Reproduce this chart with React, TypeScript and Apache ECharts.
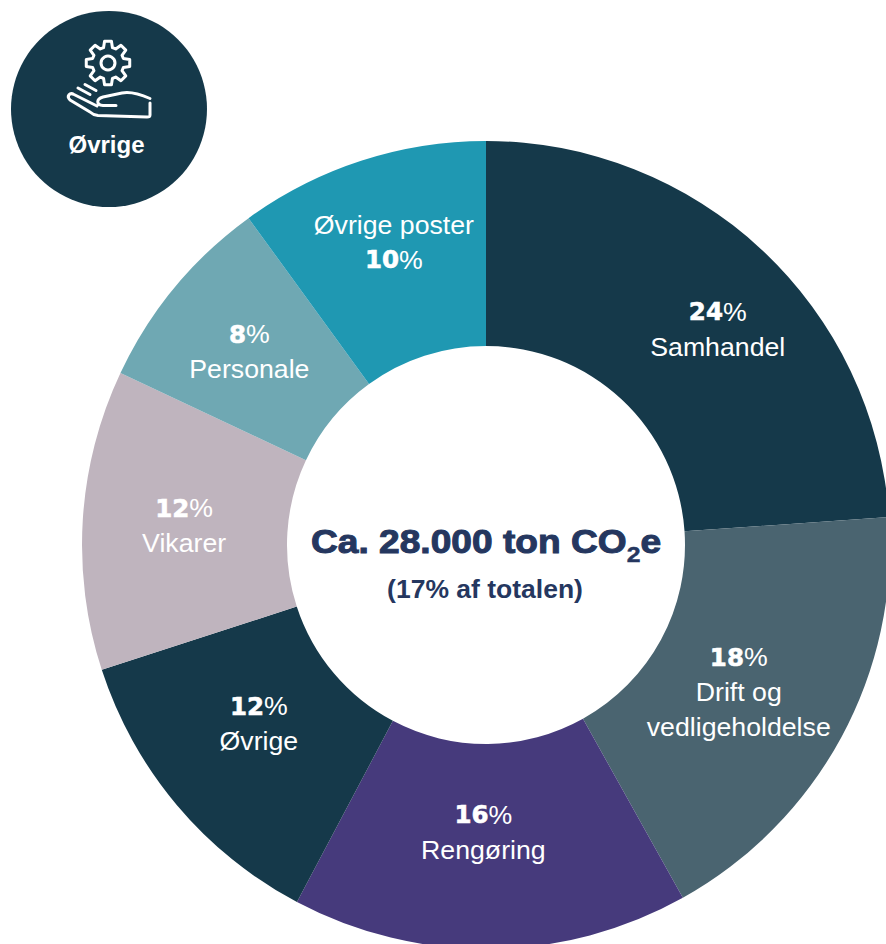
import React, { useEffect, useRef } from "react";
import * as echarts from "echarts";

const percentValues = [23.9, 18, 15.85, 12.25, 12, 8, 10];
const percentLabels = ["24", "18", "16", "12", "12", "8", "10"];
const categoryLines = [
  ["Samhandel"],
  ["Drift og", "vedligeholdelse"],
  ["Rengøring"],
  ["Øvrige"],
  ["Vikarer"],
  ["Personale"],
  ["Øvrige poster"],
];
const percentFirst = [true, true, true, true, true, true, false];
const sliceColors = ["#15394A", "#4A6470", "#463A7C", "#15394A", "#BFB4BE", "#6FA8B3", "#1F98B2"];
const labelNudges = [
  [24, 7], [-15, 2], [-6, -17], [6, -17], [2, 0], [-2, 1], [2, -13],
];
const titleMain = "Ca. 28.000 ton CO";
const titleSub = "(17% af totalen)";
const badgeLabel = "Øvrige";

function gearPath(cx: number, cy: number, ro: number, ri: number, teeth: number) {
  const pts: string[] = [];
  const step = (Math.PI * 2) / teeth;
  for (let i = 0; i < teeth; i++) {
    const a = i * step - Math.PI / 2;
    const w = step * 0.2;
    const seq: [number, number][] = [
      [ri, a - step * 0.36], [ro, a - w], [ro, a + w], [ri, a + step * 0.36],
    ];
    for (const [r, t] of seq) {
      pts.push(`${(cx + r * Math.cos(t)).toFixed(2)} ${(cy + r * Math.sin(t)).toFixed(2)}`);
    }
  }
  return "M" + pts.join(" L") + " Z";
}

const handPath =
  "M150 98.5 C142 95 132 91 122 93 L103 97 C96 99 96 105 103 105.5 L116 105.5 " +
  "M150 103 L150 115 C150 117 149 117 147 117 L98 115.5 C94 115 92 114 90 112 L70 100 C66 96 70 92 74 94.5 L97 106 " +
  "M78 88 L90 94.5 M85 84.5 L96 90.5";

echarts.graphic.registerShape("gearIcon", echarts.graphic.extendPath(gearPath(108, 63, 22, 16, 8), {}) as any);
echarts.graphic.registerShape("handIcon", echarts.graphic.extendPath(handPath, {}) as any);

export default function App() {
  const ref = useRef<HTMLDivElement>(null);
  useEffect(() => {
    document.body.style.margin = "0";
    const chart = echarts.init(ref.current!, undefined, { renderer: "svg" });
    const white = "#FFFFFF";
    const navy = "#25375F";
    chart.setOption({
      animation: false,
      backgroundColor: "#FFFFFF",
      series: [
        {
          type: "pie",
          center: [486, 545],
          radius: [199, 404],
          startAngle: 90,
          clockwise: true,
          silent: true,
          itemStyle: { borderWidth: 0 },
          labelLine: { show: false },
          label: {
            show: true,
            position: "inside",
            color: white,
            fontFamily: "Liberation Sans",
            fontSize: 26.7,
            lineHeight: 35,
            align: "center",
            formatter: (p: any) => {
              const pct = `{num|${percentLabels[p.dataIndex]}}{pct|%}`;
              const names = categoryLines[p.dataIndex].map((n) => `{pct|${n}}`);
              return (percentFirst[p.dataIndex] ? [pct, ...names] : [...names, pct]).join("\n");
            },
            rich: {
              num: {
                color: white,
                fontFamily: "DejaVu Sans",
                fontWeight: "bold",
                fontSize: 24.5,
                lineHeight: 35,
                textBorderColor: white,
                textBorderWidth: 0.6,
              },
              pct: { color: white, fontFamily: "Liberation Sans", fontSize: 26.7, lineHeight: 35 },
            },
          },
          labelLayout: (p: any) => ({ dx: labelNudges[p.dataIndex][0], dy: labelNudges[p.dataIndex][1], hideOverlap: false }),
          data: percentValues.map((value, i) => ({
            value,
            name: categoryLines[i].join(" "),
            itemStyle: { color: sliceColors[i] },
          })),
        },
      ],
      graphic: [
        { type: "circle", shape: { cx: 109, cy: 109, r: 98 }, style: { fill: "#15394A" } },
        { type: "gearIcon", style: { fill: "none", stroke: white, lineWidth: 3, lineJoin: "round" } },
        { type: "circle", shape: { cx: 108, cy: 63, r: 7 }, style: { fill: "none", stroke: white, lineWidth: 3 } },
        { type: "handIcon", style: { fill: "none", stroke: white, lineWidth: 3, lineCap: "round", lineJoin: "round" } },
        {
          type: "text",
          x: 106.5,
          y: 144,
          style: {
            text: badgeLabel,
            fill: white,
            font: "bold 24px 'Liberation Sans'",
            align: "center",
            verticalAlign: "middle",
          },
        },
        {
          type: "text",
          x: 311,
          y: 541,
          scaleX: 1.125,
          style: {
            text: `{m|${titleMain}}{s|2}{m|e}`,
            align: "left",
            verticalAlign: "middle",
            rich: {
              m: { fill: navy, font: "bold 33px 'Liberation Sans'", stroke: navy, lineWidth: 1, lineHeight: 40 },
              s: { fill: navy, font: "bold 22px 'Liberation Sans'", stroke: navy, lineWidth: 0.5, padding: [26, 0, 0, 0], lineHeight: 40 },
            },
          },
        },
        {
          type: "text",
          x: 485,
          y: 589,
          style: {
            text: titleSub,
            fill: navy,
            font: "bold 26.5px 'Liberation Sans'",
            align: "center",
            verticalAlign: "middle",
          },
        },
      ],
    });
    return () => chart.dispose();
  }, []);
  return <div ref={ref} style={{ position: "absolute", left: 0, top: 0, width: 886, height: 944 }} />;
}
